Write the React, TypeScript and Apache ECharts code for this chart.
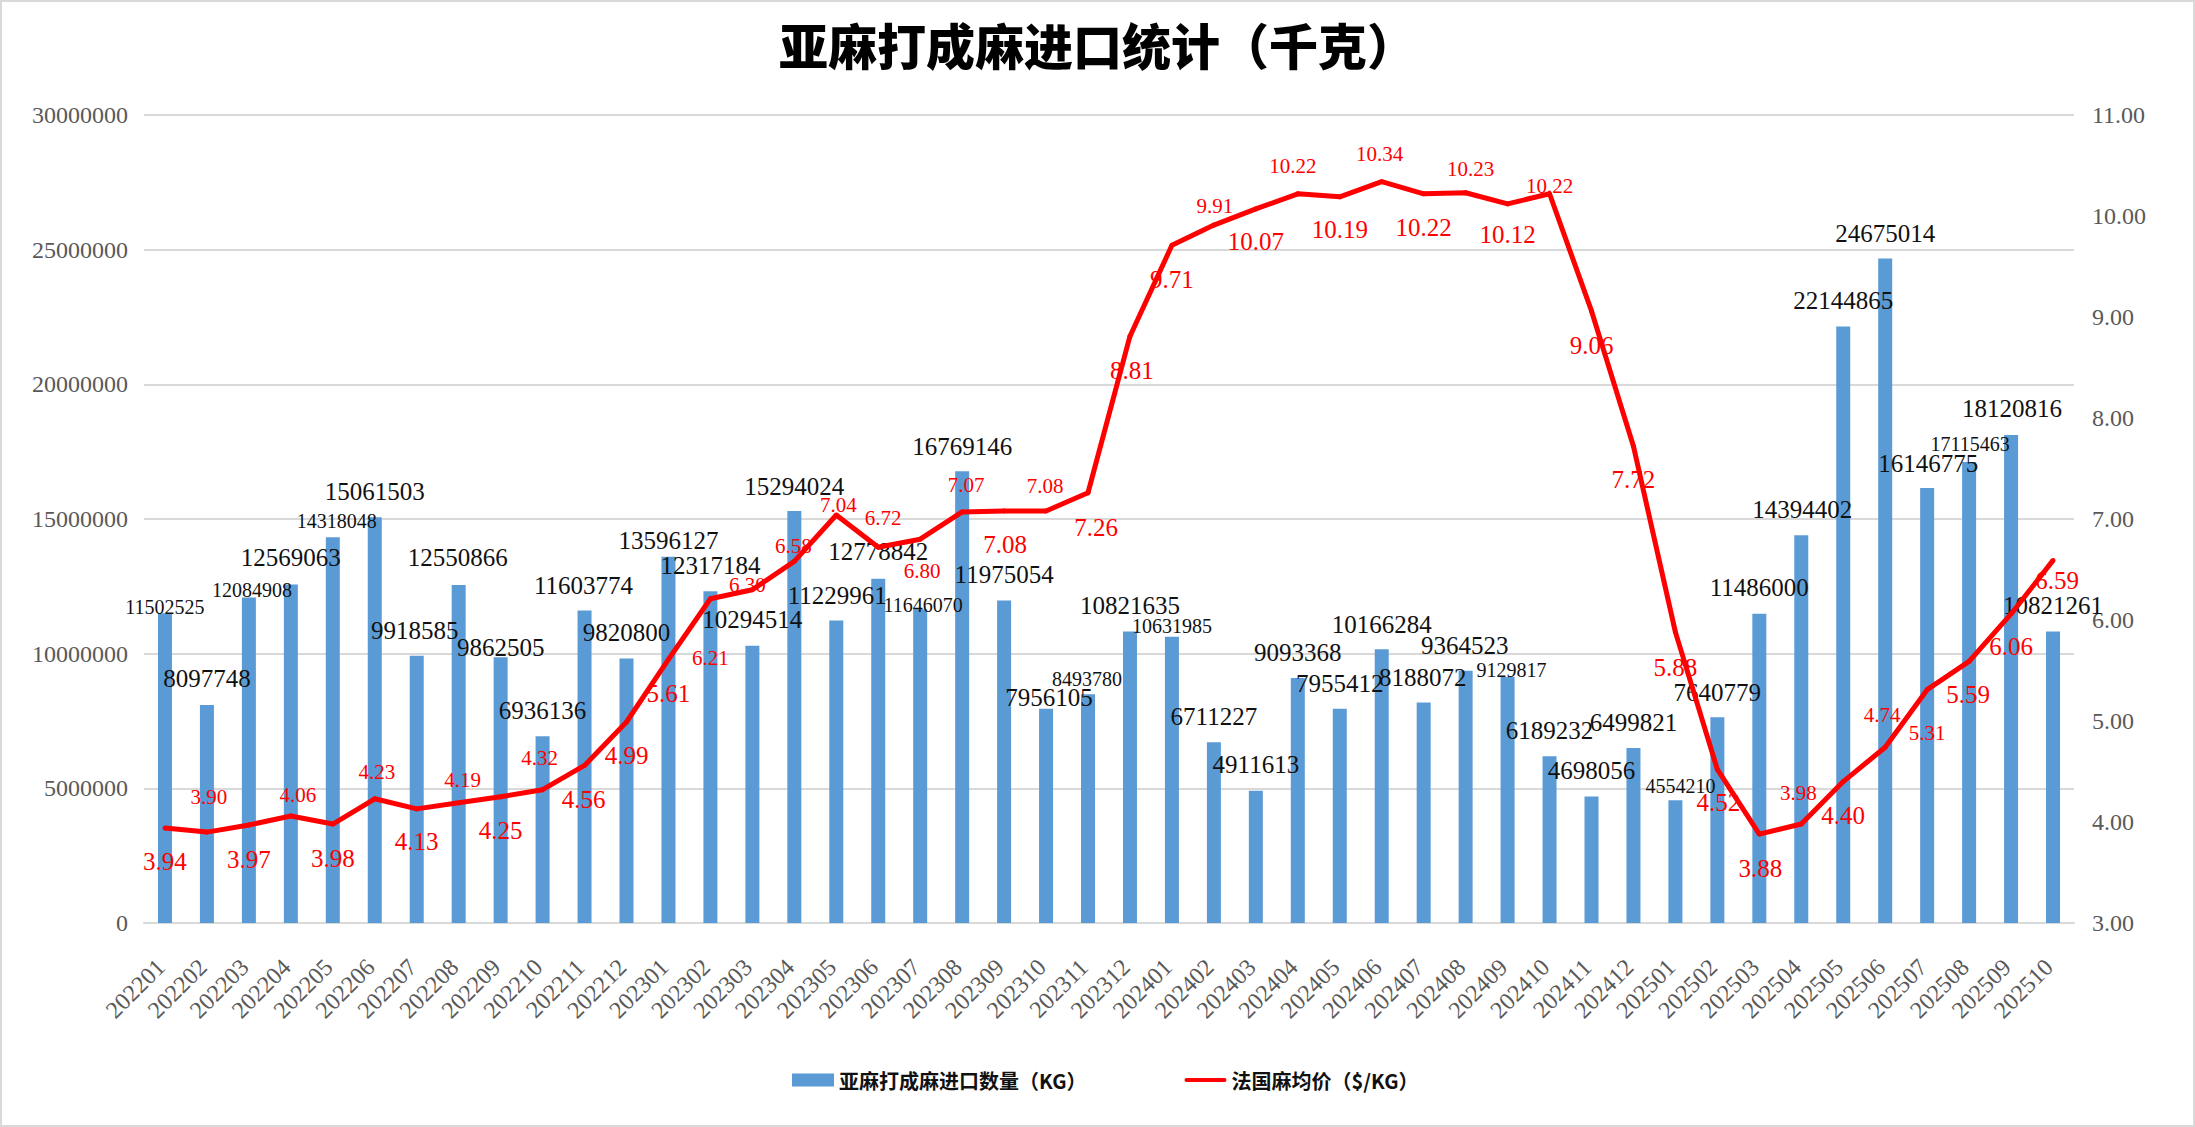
import React, { useEffect, useRef } from 'react';
import * as echarts from 'echarts';

const titleText = '亚麻打成麻进口统计（千克）';
const barName = '亚麻打成麻进口数量（KG）';
const lineName = '法国麻均价（$/KG）';

const months = [
  '202201', '202202', '202203', '202204', '202205', '202206', '202207', '202208', '202209', '202210', '202211', '202212',
  '202301', '202302', '202303', '202304', '202305', '202306', '202307', '202308', '202309', '202310', '202311', '202312',
  '202401', '202402', '202403', '202404', '202405', '202406', '202407', '202408', '202409', '202410', '202411', '202412',
  '202501', '202502', '202503', '202504', '202505', '202506', '202507', '202508', '202509', '202510',
];

const importKg = [
  11502525, 8097748, 12084908, 12569063, 14318048, 15061503, 9918585, 12550866, 9862505, 6936136, 11603774, 9820800,
  13596127, 12317184, 10294514, 15294024, 11229961, 12778842, 11646070, 16769146, 11975054, 7956105, 8493780, 10821635,
  10631985, 6711227, 4911613, 9093368, 7955412, 10166284, 8188072, 9364523, 9129817, 6189232, 4698056, 6499821,
  4554210, 7640779, 11486000, 14394402, 22144865, 24675014, 16146775, 17115463, 18120816, 10821261,
];

const priceUsd = [
  3.94, 3.9, 3.97, 4.06, 3.98, 4.23, 4.13, 4.19, 4.25, 4.32, 4.56, 4.99,
  5.61, 6.21, 6.3, 6.58, 7.04, 6.72, 6.8, 7.07, 7.08, 7.08, 7.26, 8.81,
  9.71, 9.91, 10.07, 10.22, 10.19, 10.34, 10.22, 10.23, 10.12, 10.22, 9.06, 7.72,
  5.88, 4.52, 3.88, 3.98, 4.4, 4.74, 5.31, 5.59, 6.06, 6.59,
];

const leftTicks = { min: 0, max: 30000000, interval: 5000000 };
const rightTicks = { min: 3, max: 11, interval: 1 };

// label styling (size class and nudge from the anchor, in px)
const barLabelSmall = [0, 2, 4, 18, 22, 24, 32, 36, 43];
const barLabelNudge: [number, number][] = [
  [0, -6], [0, -26], [3, -8], [0, -27], [4, -16], [0, -26], [-2, -25], [-1, -27], [0, -10], [0, -26], [-1, -25], [0, -26],
  [0, -16], [0, -26], [0, -26], [0, -25], [1, -25], [0, -27], [3, -4], [0, -25], [0, -26], [3, -11], [-1, -15], [0, -26],
  [0, -11], [0, -26], [0, -26], [0, -26], [0, -25], [0, -25], [-1, -25], [-1, -25], [4, -7], [0, -26], [0, -26], [0, -25],
  [5, -14], [0, -25], [0, -26], [1, -26], [0, -26], [0, -25], [1, -25], [1, -18], [1, -26], [0, -26],
];
const priceLabelSmall = [1, 3, 5, 7, 9, 13, 14, 15, 16, 17, 18, 19, 21, 25, 27, 29, 31, 33, 39, 41, 42];
const priceLabelNudge: [number, number][] = [
  [0, 33], [2, -35], [0, 34], [7, -21], [0, 34], [2, -27], [0, 33], [4, -23], [0, 34], [-3, -32], [-1, 34], [0, 33],
  [0, 34], [0, 59], [-5, -5], [-1, -15], [2, -10], [5, -29], [2, 32], [4, -27], [1, 34], [-1, -25], [8, 35], [2, 34],
  [0, 34], [1, -19], [0, 33], [-5, -28], [0, 33], [-2, -28], [0, 34], [5, -24], [0, 31], [0, -8], [0, 35], [0, 33],
  [0, 35], [1, 33], [1, 34], [-3, -31], [0, 34], [-3, -32], [0, 43], [-1, 33], [0, 33], [4, 20],
];

const SERIF = '"Liberation Serif", "Times New Roman", serif';
const SANS = '"Noto Sans CJK SC", "Noto Sans", sans-serif';
const LINE_ICON = 'path://M2,0 L40,0 A2,2 0 0 1 40,4 L2,4 A2,2 0 0 1 2,0 Z';

export default function App() {
  const ref = useRef<HTMLDivElement>(null);

  useEffect(() => {
    document.body.style.margin = '0';
    if (!ref.current) return;
    const chart = echarts.init(ref.current, undefined, { renderer: 'svg' });

    const barData = importKg.map((v, i) => {
      const small = barLabelSmall.includes(i);
      return {
        value: v,
        label: {
          fontSize: small ? 20 : 25,
          offset: barLabelNudge[i],
        },
      };
    });

    const lineData = priceUsd.map((v, i) => {
      const small = priceLabelSmall.includes(i);
      return {
        value: v,
        label: {
          fontSize: small ? 21 : 25,
          offset: priceLabelNudge[i],
        },
      };
    });

    chart.setOption({
      animation: false,
      backgroundColor: '#ffffff',
      title: {
        text: titleText,
        left: 'center',
        top: 14,
        textStyle: {
          fontFamily: SANS,
          fontWeight: 900,
          fontSize: 49,
          color: '#000000',
        },
      },
      graphic: [
        {
          type: 'rect',
          shape: { x: 1, y: 1, width: 2193, height: 1125 },
          style: { fill: 'none', stroke: '#d9d9d9', lineWidth: 2 },
          silent: true,
        },
      ],
      legend: {
        top: 1065,
        left: 787,
        itemGap: 98,
        itemWidth: 42,
        itemHeight: 13,
        textStyle: {
          fontFamily: SANS,
          fontWeight: 'bold',
          fontSize: 20,
          color: '#111111',
        },
        data: [
          { name: barName, icon: 'rect' },
          { name: lineName, icon: LINE_ICON },
        ],
      },
      grid: { left: 144, right: 121, top: 115, bottom: 204, containLabel: false },
      xAxis: {
        type: 'category',
        data: months,
        axisTick: { show: false },
        axisLine: { show: true, lineStyle: { color: '#d9d9d9', width: 2 } },
        axisLabel: {
          interval: 0,
          rotate: 45,
          margin: 36,
          padding: [0, 6, 0, 0],
          fontFamily: SERIF,
          fontSize: 24,
          color: '#595959',
        },
      },
      yAxis: [
        {
          type: 'value',
          min: leftTicks.min,
          max: leftTicks.max,
          interval: leftTicks.interval,
          axisLine: { show: false },
          axisTick: { show: false },
          splitLine: { show: true, lineStyle: { color: '#d9d9d9', width: 2 } },
          axisLabel: {
            margin: 16,
            fontFamily: SERIF,
            fontSize: 24,
            color: '#595959',
            formatter: (v: number) => String(v),
          },
        },
        {
          type: 'value',
          min: rightTicks.min,
          max: rightTicks.max,
          interval: rightTicks.interval,
          position: 'right',
          axisLine: { show: false },
          axisTick: { show: false },
          splitLine: { show: false },
          axisLabel: {
            margin: 18,
            fontFamily: SERIF,
            fontSize: 24,
            color: '#595959',
            formatter: (v: number) => v.toFixed(2),
          },
        },
      ],
      series: [
        {
          name: barName,
          type: 'bar',
          data: barData,
          barWidth: 14,
          itemStyle: { color: '#5B9BD5' },
          label: {
            show: true,
            position: ['50%', 0],
            align: 'center',
            verticalAlign: 'middle',
            fontFamily: SERIF,
            color: '#111111',
            formatter: (p: any) => String(p.value),
          },
        },
        {
          name: lineName,
          type: 'line',
          yAxisIndex: 1,
          data: lineData,
          symbol: 'circle',
          symbolSize: 5,
          symbolKeepAspect: true,
          showSymbol: true,
          itemStyle: { color: '#FF0000' },
          lineStyle: { color: '#FF0000', width: 5 },
          label: {
            show: true,
            position: 'inside',
            align: 'center',
            verticalAlign: 'middle',
            fontFamily: SERIF,
            color: '#FF0000',
            formatter: (p: any) => Number(p.value).toFixed(2),
          },
        },
      ],
    });

    return () => {
      chart.dispose();
    };
  }, []);

  return <div ref={ref} style={{ width: 2195, height: 1127 }} />;
}
